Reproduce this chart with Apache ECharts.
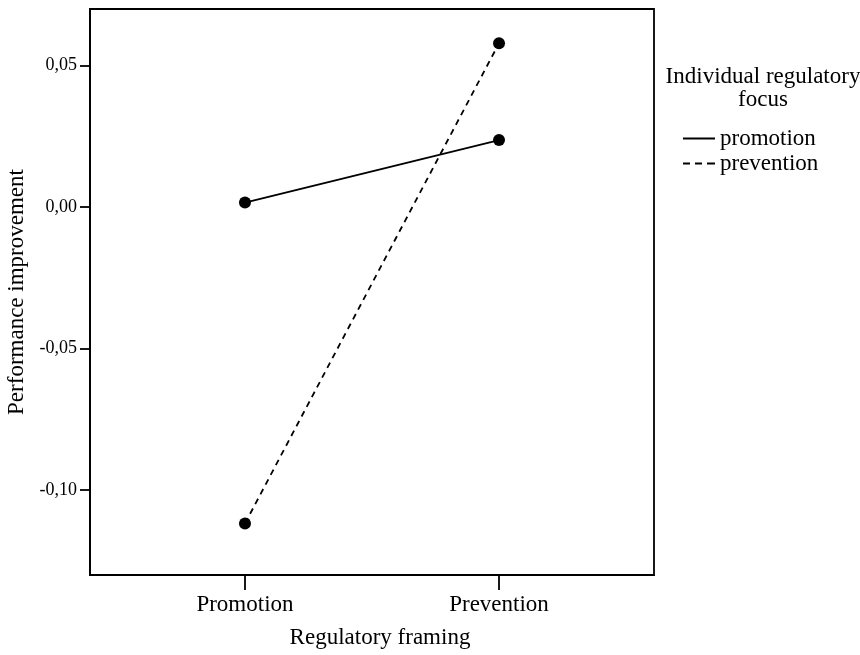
<!DOCTYPE html>
<html>
<head>
<meta charset="utf-8">
<script src="https://cdn.jsdelivr.net/npm/echarts@6/dist/echarts.min.js"></script>
<style>
  html, body { margin: 0; padding: 0; background: #fff; }
  #chart { width: 860px; height: 655px; }
</style>
</head>
<body>
<div id="chart"></div>
<script>
// Regulatory framing conditions (x axis)
const framing = ['Promotion', 'Prevention'];
// Mean performance improvement per individual regulatory focus
const promotionFocus = [0.0016, 0.0237];
const preventionFocus = [-0.1118, 0.0579];
// Tick positions
const yTicks = [-0.10, -0.05, 0.00, 0.05];
const xTicks = [0, 1];

const FONT = 'Liberation Serif';
const chart = echarts.init(document.getElementById('chart'));

const toPairs = arr => arr.map((v, i) => [i, v]);

chart.setOption({
  backgroundColor: '#fff',
  animation: false,
  title: {
    text: 'Individual regulatory\nfocus',
    left: 758,
    top: 60,
    textAlign: 'center',
    textStyle: { fontFamily: FONT, fontSize: 23, fontWeight: 'normal', color: '#000', lineHeight: 23 }
  },
  legend: {
    orient: 'vertical',
    left: 678,
    top: 122,
    itemWidth: 32,
    itemHeight: 2,
    itemGap: 2,
    textStyle: { fontFamily: FONT, fontSize: 23, color: '#000' },
    data: [
      { name: 'promotion', icon: 'path://M0,0h32v2h-32z' },
      { name: 'prevention', icon: 'path://M0,0h7v2h-7zM12,0h7v2h-7zM24,0h8v2h-8z' }
    ]
  },
  grid: {
    left: 90, right: 206, top: 9, bottom: 80,
    outerBoundsMode: 'none',
    show: true, borderColor: '#000', borderWidth: 1.8, backgroundColor: 'transparent'
  },
  xAxis: {
    type: 'value',
    min: -0.61, max: 1.61,
    name: 'Regulatory framing',
    nameLocation: 'middle',
    nameGap: 51,
    nameTextStyle: { fontFamily: FONT, fontSize: 23, color: '#000', padding: [0, 0, 0, 16] },
    axisLine: { show: true, onZero: false, lineStyle: { color: '#000', width: 1.8 } },
    axisTick: { show: true, customValues: xTicks, length: 15, lineStyle: { color: '#000', width: 1.8 } },
    axisLabel: {
      customValues: xTicks,
      margin: 18,
      fontFamily: FONT, fontSize: 23, color: '#000',
      formatter: v => framing[Math.round(v)]
    },
    splitLine: { show: false }
  },
  yAxis: {
    type: 'value',
    min: -0.13, max: 0.07,
    name: 'Performance improvement',
    nameLocation: 'middle',
    nameGap: 60,
    nameTextStyle: { fontFamily: FONT, fontSize: 23, color: '#000' },
    axisLine: { show: true, onZero: false, lineStyle: { color: '#000', width: 1.8 } },
    axisTick: { show: true, customValues: yTicks, length: 10, lineStyle: { color: '#000', width: 1.8 } },
    axisLabel: {
      customValues: yTicks,
      margin: 13,
      fontFamily: FONT, fontSize: 18, color: '#000',
      formatter: v => v.toFixed(2).replace('.', ',')
    },
    splitLine: { show: false }
  },
  series: [
    {
      name: 'promotion',
      type: 'line',
      data: toPairs(promotionFocus),
      symbol: 'circle',
      symbolSize: 12,
      color: '#000',
      itemStyle: { color: '#000' },
      lineStyle: { color: '#000', width: 1.8, type: 'solid' }
    },
    {
      name: 'prevention',
      type: 'line',
      data: toPairs(preventionFocus),
      symbol: 'circle',
      symbolSize: 12,
      color: '#000',
      itemStyle: { color: '#000' },
      lineStyle: { color: '#000', width: 1.8, type: [6, 5] }
    }
  ]
});
</script>
</body>
</html>
